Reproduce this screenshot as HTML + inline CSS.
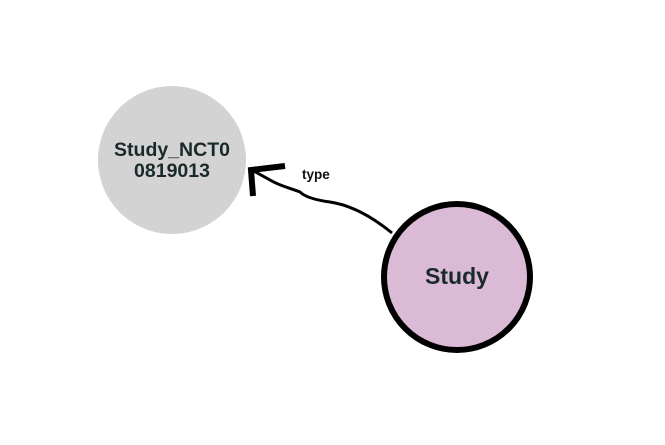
<!DOCTYPE html>
<html><head><meta charset="utf-8"><style>
html,body{margin:0;padding:0;background:#fff;width:665px;height:445px;overflow:hidden}
</style></head><body>
<svg width="665" height="445" viewBox="0 0 665 445" xmlns="http://www.w3.org/2000/svg">
<rect width="665" height="445" fill="#fff"/>
<circle cx="172" cy="160" r="74" fill="#d3d3d3"/>
<text x="172" y="156" text-anchor="middle" font-family="Liberation Sans, sans-serif" font-weight="bold" font-size="19.5" fill="#1a2a2a">Study_NCT0</text>
<text x="172" y="177" text-anchor="middle" font-family="Liberation Sans, sans-serif" font-weight="bold" font-size="19.5" fill="#1a2a2a">0819013</text>
<path d="M392,233 C370,215 350,205 330,202 C315,200 305,197 300,192 C290,188 280,186 270,180 L252,170" fill="none" stroke="#000" stroke-width="3"/>
<path d="M285,166 L251,170 L253,196" fill="none" stroke="#000" stroke-width="6" stroke-linejoin="miter"/>
<text x="302" y="179" font-family="Liberation Sans, sans-serif" font-weight="bold" font-size="13.5" fill="#111">type</text>
<circle cx="457" cy="277" r="73" fill="#dbbad6" stroke="#000" stroke-width="6"/>
<text x="457" y="284" text-anchor="middle" font-family="Liberation Sans, sans-serif" font-weight="bold" font-size="23" fill="#1a2a2a">Study</text>
</svg>
</body></html>
